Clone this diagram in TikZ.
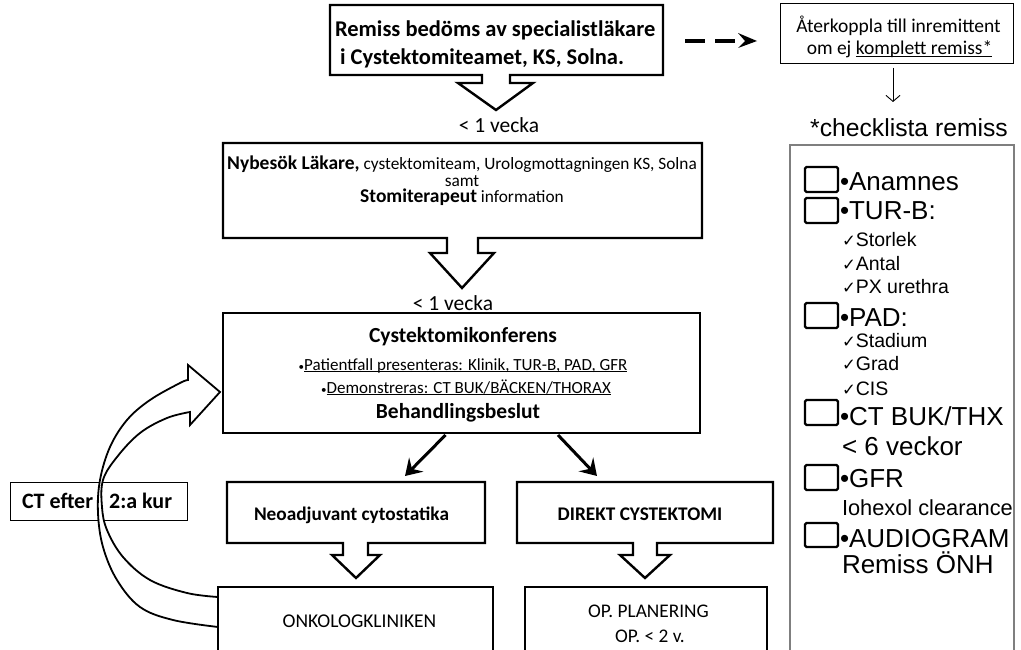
\documentclass[tikz,border=0pt]{standalone}
\usepackage{fontspec}
\setmainfont{Carlito}
\newfontfamily\arialf{Liberation Sans}
\newfontfamily\djv{DejaVu Sans}
\usetikzlibrary{arrows.meta,calc}
\definecolor{boxgray}{HTML}{7F7F7F}
\newcommand{\fsz}[1]{\fontsize{#1pt}{#1pt}\selectfont}
\newcommand{\ulx}[1]{\setbox0\hbox{#1}\rlap{\rule[-2pt]{\wd0}{1pt}}\box0}
\newcommand{\chk}{{\djv\fsz{16.5}✓}}
\begin{document}
\begin{tikzpicture}[x=1pt,y=-1pt,
  region/.style 2 args={inner sep=0pt,outer sep=0pt,minimum width=#1pt,minimum height=#2pt},
  box/.style={draw=black,line width=2.4pt,line join=miter,fill=white},
  thinbox/.style={draw=black,line width=0.9pt,fill=white},
  txt/.style={inner sep=0pt,outer sep=0pt},
  diag/.style={line width=3pt,-{Stealth[length=16pt,width=20pt,inset=6pt]}},
  sq/.style={draw=black,line width=2.2pt,rounded corners=1.5pt},
  ck/.style={txt,anchor=base west,font=\arialf\fsz{26}},
  sub/.style={txt,anchor=base west,font=\arialf\fsz{19.5}},
]
\fill[white] (0,0) rectangle (1021,650);
\useasboundingbox (0,0) rectangle (1021,650);
\clip (0,0) rectangle (1021,650);

% regions
\node[region={333}{70}] (remiss) at (496.5,40) {};
\node[region={479}{95}] (nybesok) at (462.5,190.5) {};
\node[region={477}{120}] (conf) at (461.5,373) {};
\node[region={258}{61}] (neo) at (356,512.5) {};
\node[region={256}{61}] (direkt) at (645,512.5) {};
\node[region={275}{78}] (onko) at (355.5,626) {};
\node[region={242}{78}] (opplan) at (646,626) {};
\node[region={233}{60}] (feedback) at (896.5,33) {};
\node[region={177}{38}] (ct) at (98.5,501) {};
\node[region={224}{520}] (checklist) at (902,405) {};

% outlines
\draw[box] (330,5) -- (663,5) -- (663,75) -- (510,75) -- (510,83) -- (533,83) -- (496,110) -- (458,83) -- (482,83) -- (482,75) -- (330,75) -- cycle;
\draw[box] (223,143) -- (702,143) -- (702,238) -- (478,238) -- (478,253) -- (494,253) -- (462,288) -- (430,253) -- (447,253) -- (447,238) -- (223,238) -- cycle;
\draw[box] (conf.north west) rectangle (conf.south east);
\draw[box] (227,482) -- (485,482) -- (485,543) -- (368,543) -- (368,555) -- (380,555) -- (356,578) -- (332,555) -- (343,555) -- (343,543) -- (227,543) -- cycle;
\draw[box] (517,482) -- (773,482) -- (773,543) -- (657,543) -- (657,555) -- (670,555) -- (645,578) -- (620,555) -- (633,555) -- (633,543) -- (517,543) -- cycle;
\draw[box] (onko.north west) rectangle (onko.south east);
\draw[box] (opplan.north west) rectangle (opplan.south east);
\draw[thinbox] (feedback.north west) rectangle (feedback.south east);
\draw[thinbox] (ct.north west) rectangle (ct.south east);
\draw[draw=boxgray,line width=1.6pt] (checklist.north west) rectangle (checklist.south east);

% texts
\node[txt,anchor=base west,font=\bfseries\fsz{22.5}] (r1) at (335,37) {Remiss bedöms av specialistläkare};
\node[txt,anchor=base west,font=\bfseries\fsz{22.5}] (r2) at (340,65) {i Cystektomiteamet, KS, Solna.};
\node[txt,anchor=base,font=\fsz{21.5}] (v1) at (499,133) {< 1 vecka};

\node[txt,anchor=base] (n1) at (462,170) {{\bfseries\fsz{19.5}Nybesök Läkare,}{\fsz{17.3} cystektomiteam, Urologmottagningen KS, Solna}};
\node[txt,anchor=base,font=\fsz{17.3}] (n2) at (462,186) {samt};
\node[txt,anchor=base] (n3) at (462,203) {{\bfseries\fsz{19.5}Stomiterapeut}{\fsz{17.3} information}};
\node[txt,anchor=base,font=\fsz{21.5}] (v2) at (453,310) {< 1 vecka};

\node[txt,anchor=base,font=\bfseries\fsz{21.5}] (c1) at (463,342) {Cystektomikonferens};
\node[txt,anchor=base,font=\fsz{17}] (c2) at (463,370) {{\fsz{11}•}\ulx{Patientfall presenteras: Klinik, TUR-B, PAD, GFR}};
\node[txt,anchor=base,font=\fsz{17}] (c3) at (466,393) {{\fsz{11}•}\ulx{Demonstreras: CT BUK/BÄCKEN/THORAX}};
\node[txt,anchor=base,font=\bfseries\fsz{21.5}] (c4) at (458,418) {Behandlingsbeslut};

\node[txt,anchor=base,font=\bfseries\fsz{19.3}] (neot) at (351.5,520) {Neoadjuvant cytostatika};
\node[txt,anchor=base,font=\bfseries\fsz{19.3}] (dirt) at (640,520) {DIREKT CYSTEKTOMI};
\node[txt,anchor=base,font=\fsz{19.5}] (onkot) at (359.5,627) {ONKOLOGKLINIKEN};
\node[txt,anchor=base,font=\fsz{19.3}] (op1) at (648.5,617) {OP. PLANERING};
\node[txt,anchor=base,font=\fsz{19.3}] (op2) at (650,642) {OP. < 2 v.};

\node[txt,anchor=base,font=\fsz{19.5}] (f1) at (898.5,33) {Återkoppla till inremittent};
\node[txt,anchor=base,font=\fsz{19.5}] (f2) at (899.5,55) {om ej \ulx{komplett remiss*}};

\node[txt,anchor=base west,font=\bfseries\fsz{22}] (ctt) at (22,508) {CT efter\hspace{16pt}2:a kur};

\node[txt,anchor=base,font=\arialf\fsz{24.7}] (title) at (909,137) {*checklista remiss};

% checklist
\draw[sq] (805,167) rectangle (838,192);
\draw[sq] (805,198) rectangle (838,223);
\draw[sq] (805,303) rectangle (838,328);
\draw[sq] (805,400) rectangle (838,425);
\draw[sq] (805,465) rectangle (838,490);
\draw[sq] (805,523) rectangle (838,547);
\node[ck] (k1) at (840,191) {•Anamnes};
\node[ck] (k2) at (840,220) {•TUR-B:};
\node[sub] (s1) at (842,247) {\chk Storlek};
\node[sub] (s2) at (842,270) {\chk Antal};
\node[sub] (s3) at (842,293) {\chk PX urethra};
\node[ck] (k3) at (840,326) {•PAD:};
\node[sub] (s4) at (842,347) {\chk Stadium};
\node[sub] (s5) at (842,370) {\chk Grad};
\node[sub] (s6) at (842,395) {\chk CIS};
\node[ck] (k4) at (840,425) {•CT BUK/THX};
\node[ck] (k4b) at (842,455) {< 6 veckor};
\node[ck] (k5) at (840,487) {•GFR};
\node[ck,font=\arialf\fsz{21.8}] (k5b) at (842,515) {Iohexol clearance};
\node[ck] (k6) at (840,547) {•AUDIOGRAM};
\node[ck] (k6b) at (842,573) {Remiss ÖNH};

% connectors
\draw[diag] ($(conf.south)+(-16,2)$) -- ($(neo.north)+(49,-6)$);
\draw[diag] ($(conf.south)+(96.5,2)$) -- ($(direkt.north)+(-48,-6)$);

\coordinate (d0) at ($(remiss.east)+(22,1)$);
\coordinate (d1) at ($(feedback.west)+(-23,8)$);
\draw[line width=4.5pt,dash pattern=on 20pt off 10pt] (d0) -- ($(d1)+(-20,0)$);
\fill ($(d1)+(-19,-8)$) -- (d1) -- ($(d1)+(-19,7)$) -- ($(d1)+(-12,0)$) -- cycle;

\coordinate (a0) at ($(feedback.south)+(-3.5,5)$);
\coordinate (a1) at ($(feedback.south)+(-3.5,39)$);
\draw[line width=0.9pt,-{Straight Barb[length=6pt,width=14pt]}] (a0) -- (a1);

% curved arrow from ONKOLOGKLINIKEN back to the conference
\draw[line width=1.8pt,fill=white,line join=miter]
  plot[smooth,tension=0.6] coordinates {(218,597) (187,593) (150,580) (123,557) (107,530) (102,507) (103,480) (117,457) (140,433) (167,418) (190,412)}
  -- (190,425) -- (220,392) -- (188,365) -- (188,380)
  -- plot[smooth,tension=0.6] coordinates {(188,380) (180,383) (150,400) (127,420) (110,447) (100,480) (98,513) (103,547) (117,580) (140,607) (173,620) (218,627)}
  -- cycle;
\end{tikzpicture}
\end{document}
